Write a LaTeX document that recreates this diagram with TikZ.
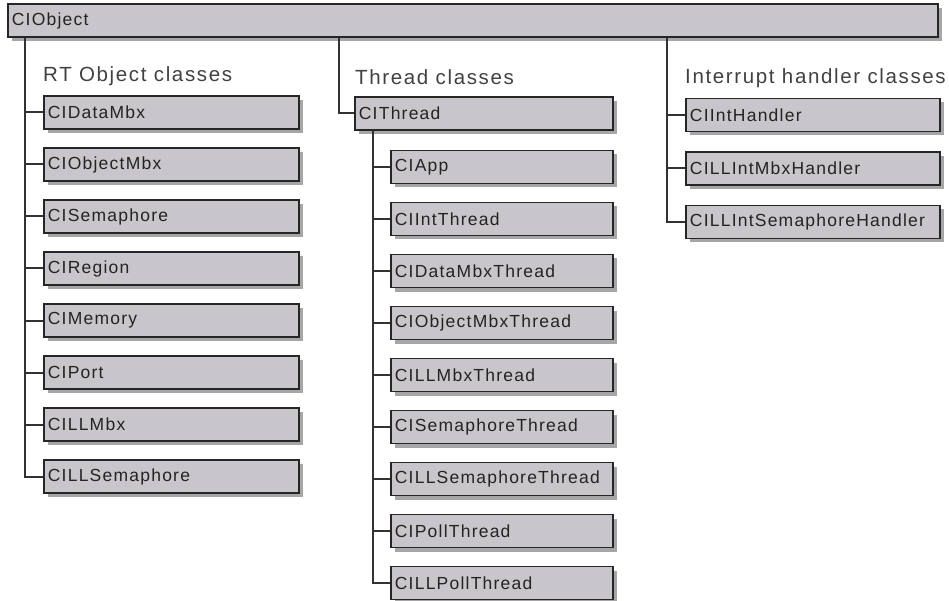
\documentclass[tikz,border=0pt]{standalone}
\usepackage{fontspec}
\setmainfont{Liberation Sans}
\newfontfamily\boxfont[LetterSpace=7]{Liberation Sans}
\newfontfamily\headfont[LetterSpace=8]{Liberation Sans}
\usetikzlibrary{shadows}
\definecolor{boxgray}{RGB}{201,198,203}
\definecolor{textgray}{RGB}{35,35,35}
\definecolor{headgray}{RGB}{65,65,65}
\definecolor{linegray}{RGB}{50,50,50}
\begin{document}
\begin{tikzpicture}[x=1pt, y=-1pt,
  classbox/.style={draw=black!85, line width=1.8pt, fill=boxgray, anchor=west,
    minimum height=33pt, inner ysep=0pt, inner xsep=4pt, text width=#1,
    align=left, text=textgray, font={\boxfont\fontsize{17.5pt}{20pt}\selectfont},
    drop shadow={shadow xshift=4pt, shadow yshift=-4pt, fill=black!35, opacity=1}},
  header/.style={anchor=west, inner sep=0pt, text=headgray,
    font={\headfont\fontsize{20.5pt}{24pt}\selectfont}},
  link/.style={draw=linegray, line width=2pt}]

  \useasboundingbox (0,0) rectangle (949,601);

  \newcommand\Dy{52}

  % root
  \node[classbox=922pt] (objbar) at (7,20.5) {CIObject};

  % group titles
  \node[header] (rthead) at (43,76) {RT Object classes};
  \node[header] (thhead) at (355,77) {Thread classes};
  \node[header] (ihhead) at (685,78) {Interrupt handler classes};

  % RT object classes
  \foreach \name [count=\i, evaluate=\i as \yy using 112.5+\Dy*(\i-1)] in
    {CIDataMbx, CIObjectMbx, CISemaphore, CIRegion, CIMemory, CIPort, CILLMbx, CILLSemaphore}
    \node[classbox=247pt] (rt\i) at (43,\yy) {\name};

  % thread classes
  \node[classbox=250pt] (th0) at (354,113.5) {CIThread};
  \foreach \name [count=\i, evaluate=\i as \yy using 167+\Dy*(\i-1)] in
    {CIApp, CIIntThread, CIDataMbxThread, CIObjectMbxThread, CILLMbxThread,
     CISemaphoreThread, CILLSemaphoreThread, CIPollThread, CILLPollThread}
    \node[classbox=214pt] (th\i) at (390,\yy) {\name};

  % interrupt handler classes
  \foreach \name [count=\i, evaluate=\i as \yy using 115+53.5*(\i-1)] in
    {CIIntHandler, CILLIntMbxHandler, CILLIntSemaphoreHandler}
    \node[classbox=246pt] (ih\i) at (685,\yy) {\name};

  % trunks
  \coordinate (rtx) at (25,0);
  \coordinate (thx) at (339,0);
  \coordinate (thsubx) at (373,0);
  \coordinate (ihx) at (667,0);

  \draw[link] (objbar.south -| rtx) |- (rt8.west);
  \foreach \i in {1,...,7}
    \draw[link] (rtx |- rt\i.west) -- (rt\i.west);

  \draw[link] (objbar.south -| thx) |- (th0.west);
  \draw[link] (th0.south -| thsubx) |- (th9.west);
  \foreach \i in {1,...,8}
    \draw[link] (thsubx |- th\i.west) -- (th\i.west);

  \draw[link] (objbar.south -| ihx) |- (ih3.west);
  \foreach \i in {1,2}
    \draw[link] (ihx |- ih\i.west) -- (ih\i.west);
\end{tikzpicture}
\end{document}
